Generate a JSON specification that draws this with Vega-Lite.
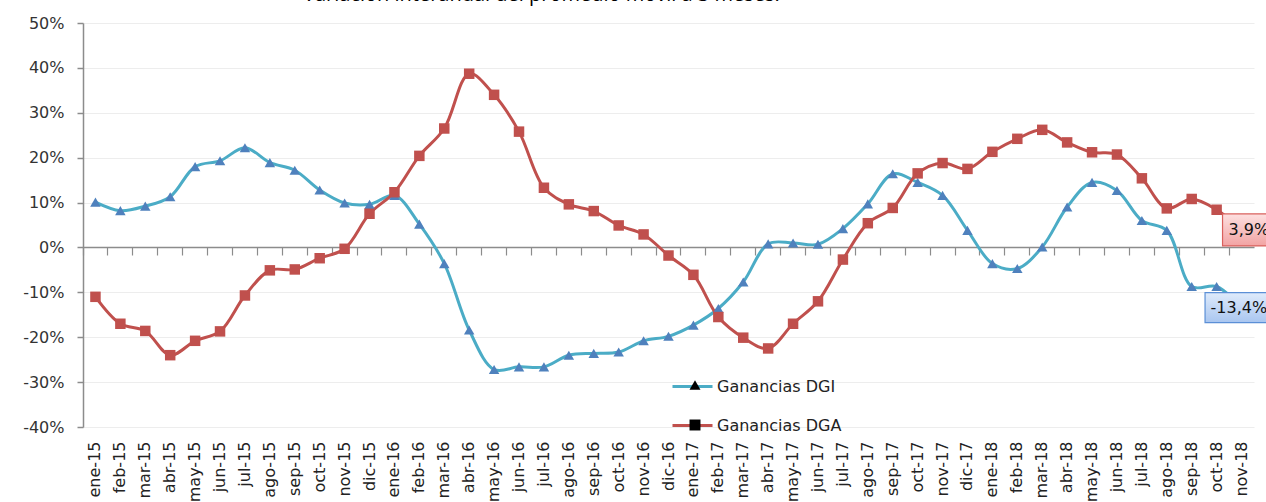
{
  "$schema": "https://vega.github.io/schema/vega-lite/v6.json",
  "autosize": {"type": "none"},
  "width": 1171,
  "height": 404,
  "padding": {"left": 83, "top": 23, "right": 12, "bottom": 75},
  "background": "#ffffff",
  "title": {
    "text": "Variación interanual del promedio móvil a 3 meses.",
    "anchor": "start",
    "frame": "group",
    "dx": 220,
    "offset": -6,
    "baseline": "alphabetic",
    "font": "Open Sans",
    "fontSize": 20,
    "fontWeight": "normal",
    "color": "#000000"
  },
  "config": {
    "font": "DejaVu Sans",
    "view": {"stroke": null}
  },
  "datasets": {
    "serie": [
      {"mes": "ene-15", "Ganancias DGI": 10.1, "Ganancias DGA": -11.0},
      {"mes": "feb-15", "Ganancias DGI": 8.2, "Ganancias DGA": -17.0},
      {"mes": "mar-15", "Ganancias DGI": 9.2, "Ganancias DGA": -18.6},
      {"mes": "abr-15", "Ganancias DGI": 11.3, "Ganancias DGA": -24.0},
      {"mes": "may-15", "Ganancias DGI": 18.0, "Ganancias DGA": -20.8},
      {"mes": "jun-15", "Ganancias DGI": 19.3, "Ganancias DGA": -18.7},
      {"mes": "jul-15", "Ganancias DGI": 22.2, "Ganancias DGA": -10.7},
      {"mes": "ago-15", "Ganancias DGI": 18.9, "Ganancias DGA": -5.1},
      {"mes": "sep-15", "Ganancias DGI": 17.2, "Ganancias DGA": -4.9},
      {"mes": "oct-15", "Ganancias DGI": 12.8, "Ganancias DGA": -2.4},
      {"mes": "nov-15", "Ganancias DGI": 9.9, "Ganancias DGA": -0.3},
      {"mes": "dic-15", "Ganancias DGI": 9.6, "Ganancias DGA": 7.5},
      {"mes": "ene-16", "Ganancias DGI": 11.6, "Ganancias DGA": 12.3},
      {"mes": "feb-16", "Ganancias DGI": 5.2, "Ganancias DGA": 20.4},
      {"mes": "mar-16", "Ganancias DGI": -3.6, "Ganancias DGA": 26.5},
      {"mes": "abr-16", "Ganancias DGI": -18.4, "Ganancias DGA": 38.7},
      {"mes": "may-16", "Ganancias DGI": -27.2, "Ganancias DGA": 34.0},
      {"mes": "jun-16", "Ganancias DGI": -26.6, "Ganancias DGA": 25.8},
      {"mes": "jul-16", "Ganancias DGI": -26.6, "Ganancias DGA": 13.3},
      {"mes": "ago-16", "Ganancias DGI": -24.0, "Ganancias DGA": 9.6},
      {"mes": "sep-16", "Ganancias DGI": -23.6, "Ganancias DGA": 8.1},
      {"mes": "oct-16", "Ganancias DGI": -23.3, "Ganancias DGA": 4.9},
      {"mes": "nov-16", "Ganancias DGI": -20.8, "Ganancias DGA": 2.9},
      {"mes": "dic-16", "Ganancias DGI": -19.8, "Ganancias DGA": -1.8},
      {"mes": "ene-17", "Ganancias DGI": -17.3, "Ganancias DGA": -6.1},
      {"mes": "feb-17", "Ganancias DGI": -13.6, "Ganancias DGA": -15.5},
      {"mes": "mar-17", "Ganancias DGI": -7.7, "Ganancias DGA": -20.1},
      {"mes": "abr-17", "Ganancias DGI": 0.8, "Ganancias DGA": -22.5},
      {"mes": "may-17", "Ganancias DGI": 1.0, "Ganancias DGA": -17.0},
      {"mes": "jun-17", "Ganancias DGI": 0.7, "Ganancias DGA": -12.0},
      {"mes": "jul-17", "Ganancias DGI": 4.2, "Ganancias DGA": -2.7},
      {"mes": "ago-17", "Ganancias DGI": 9.7, "Ganancias DGA": 5.4},
      {"mes": "sep-17", "Ganancias DGI": 16.4, "Ganancias DGA": 8.8},
      {"mes": "oct-17", "Ganancias DGI": 14.5, "Ganancias DGA": 16.5},
      {"mes": "nov-17", "Ganancias DGI": 11.6, "Ganancias DGA": 18.8},
      {"mes": "dic-17", "Ganancias DGI": 3.8, "Ganancias DGA": 17.5},
      {"mes": "ene-18", "Ganancias DGI": -3.6, "Ganancias DGA": 21.3},
      {"mes": "feb-18", "Ganancias DGI": -4.7, "Ganancias DGA": 24.2},
      {"mes": "mar-18", "Ganancias DGI": 0.1, "Ganancias DGA": 26.2},
      {"mes": "abr-18", "Ganancias DGI": 9.0, "Ganancias DGA": 23.4},
      {"mes": "may-18", "Ganancias DGI": 14.5, "Ganancias DGA": 21.2},
      {"mes": "jun-18", "Ganancias DGI": 12.7, "Ganancias DGA": 20.7},
      {"mes": "jul-18", "Ganancias DGI": 6.0, "Ganancias DGA": 15.4},
      {"mes": "ago-18", "Ganancias DGI": 3.8, "Ganancias DGA": 8.7},
      {"mes": "sep-18", "Ganancias DGI": -8.7, "Ganancias DGA": 10.8},
      {"mes": "oct-18", "Ganancias DGI": -8.7, "Ganancias DGA": 8.4},
      {"mes": "nov-18", "Ganancias DGI": -13.4, "Ganancias DGA": 3.9}
    ],
    "etiquetas": [
      {"mes": "nov-18", "serie": "Ganancias DGA", "valor": 3.9, "etiqueta": "3,9%"},
      {"mes": "nov-18", "serie": "Ganancias DGI", "valor": -13.4, "etiqueta": "-13,4%"}
    ]
  },
  "resolve": {"axis": {"x": "independent", "y": "independent"}},
  "layer": [
    {
      "data": {"name": "serie"},
      "transform": [{"fold": ["Ganancias DGI", "Ganancias DGA"], "as": ["serie", "valor"]}],
      "mark": {"type": "line", "interpolate": "catmull-rom", "strokeWidth": 3},
      "encoding": {
        "x": {
          "field": "mes", "type": "ordinal", "sort": null,
          "scale": {"type": "band", "paddingInner": 0, "paddingOuter": 0},
          "axis": {"title": null, "labelAngle": -90, "labelFontSize": 16, "labelColor": "#222222", "domain": false, "ticks": false, "grid": false, "labelPadding": 14}
        },
        "y": {
          "field": "valor", "type": "quantitative",
          "scale": {"domain": [-40, 50], "nice": false, "zero": false},
          "axis": {
            "title": null, "values": [-40, -30, -20, -10, 0, 10, 20, 30, 40, 50],
            "labelExpr": "datum.value + '%'", "labelFontSize": 16, "labelColor": "#333333",
            "grid": true, "gridColor": "#EDEDED", "gridWidth": 1.2,
            "domainColor": "#8C8C8C", "domainWidth": 1.5, "tickColor": "#8C8C8C", "tickSize": 6, "tickWidth": 1.5, "labelPadding": 13
          }
        },
        "stroke": {
          "field": "serie", "type": "nominal",
          "scale": {"domain": ["Ganancias DGI", "Ganancias DGA"], "range": ["#4BACC6", "#C0504D"]},
          "legend": {
            "orient": "none", "legendX": 588, "legendY": 342, "title": null, "padding": 0, "zindex": 0,
            "symbolType": "stroke", "symbolSize": 1600, "symbolStrokeWidth": 3,
            "labelFontSize": 16, "labelColor": "#222222", "labelOffset": 3, "rowPadding": 9
          }
        }
      }
    },
    {
      "data": {"name": "serie"},
      "transform": [{"fold": ["Ganancias DGI", "Ganancias DGA"], "as": ["Serie", "valor"]}],
      "mark": {"type": "point", "filled": true, "opacity": 1, "size": 110, "strokeWidth": 0},
      "encoding": {
        "x": {
          "field": "mes", "type": "ordinal", "sort": null,
          "axis": {"orient": "bottom", "offset": -180, "labels": false, "title": null, "grid": false, "domain": true, "domainColor": "#8C8C8C", "domainWidth": 1.5, "ticks": true, "tickColor": "#8C8C8C", "tickWidth": 1.2, "tickSize": 8, "bandPosition": 0}
        },
        "y": {"field": "valor", "type": "quantitative", "axis": null},
        "fill": {
          "field": "Serie", "type": "nominal",
          "sort": ["Ganancias DGI", "Ganancias DGA"],
          "scale": {"range": ["#4F81BD", "#C0504D"]},
          "legend": null
        },
        "shape": {
          "field": "Serie", "type": "nominal",
          "sort": ["Ganancias DGI", "Ganancias DGA"],
          "scale": {"range": ["triangle-up", "square"]},
          "legend": {
            "orient": "none", "legendX": 604, "legendY": 354, "title": null, "padding": 0, "zindex": 2,
            "labelOpacity": 0, "labelFontSize": 16, "rowPadding": 24, "symbolSize": 120, "symbolStrokeWidth": 0,
            "encode": {
              "symbols": {
                "fill": {"condition": {"test": "datum.value == 'Ganancias DGI'", "value": "#4F81BD"}, "value": "#C0504D"},
                "opacity": {"value": 1}
              }
            }
          }
        }
      }
    },
    {
      "data": {"name": "etiquetas"},
      "transform": [{"filter": "datum.serie == 'Ganancias DGA'"}],
      "mark": {
        "type": "point", "filled": true, "opacity": 1, "shape": "M-1,-0.64H1V0.64H-1Z", "size": 2500, "xOffset": 6,
        "fill": {"gradient": "linear", "x1": 0, "y1": 0, "x2": 0, "y2": 1, "stops": [{"offset": 0, "color": "#FDE0E0"}, {"offset": 1, "color": "#F2A3A3"}]},
        "stroke": "#D9605C", "strokeWidth": 1.2
      },
      "encoding": {
        "x": {"field": "mes", "type": "ordinal", "sort": null, "axis": null},
        "y": {"field": "valor", "type": "quantitative", "axis": null}
      }
    },
    {
      "data": {"name": "etiquetas"},
      "transform": [{"filter": "datum.serie == 'Ganancias DGI'"}],
      "mark": {
        "type": "point", "filled": true, "opacity": 1, "shape": "M-1,-0.46H1V0.46H-1Z", "size": 4225, "xOffset": -4,
        "fill": {"gradient": "linear", "x1": 0, "y1": 0, "x2": 0, "y2": 1, "stops": [{"offset": 0, "color": "#DFEBFB"}, {"offset": 1, "color": "#A9C6F0"}]},
        "stroke": "#5B8FD6", "strokeWidth": 1.2
      },
      "encoding": {
        "x": {"field": "mes", "type": "ordinal", "sort": null, "axis": null},
        "y": {"field": "valor", "type": "quantitative", "axis": null}
      }
    },
    {
      "data": {"name": "etiquetas"},
      "transform": [{"filter": "datum.serie == 'Ganancias DGA'"}],
      "mark": {"type": "text", "align": "left", "baseline": "middle", "fontSize": 16, "color": "#111111", "dx": -13},
      "encoding": {
        "x": {"field": "mes", "type": "ordinal", "sort": null, "axis": null},
        "y": {"field": "valor", "type": "quantitative", "axis": null},
        "text": {"field": "etiqueta", "type": "nominal"}
      }
    },
    {
      "data": {"name": "etiquetas"},
      "transform": [{"filter": "datum.serie == 'Ganancias DGI'"}],
      "mark": {"type": "text", "align": "left", "baseline": "middle", "fontSize": 16, "color": "#111111", "dx": -31},
      "encoding": {
        "x": {"field": "mes", "type": "ordinal", "sort": null, "axis": null},
        "y": {"field": "valor", "type": "quantitative", "axis": null},
        "text": {"field": "etiqueta", "type": "nominal"}
      }
    }
  ]
}
